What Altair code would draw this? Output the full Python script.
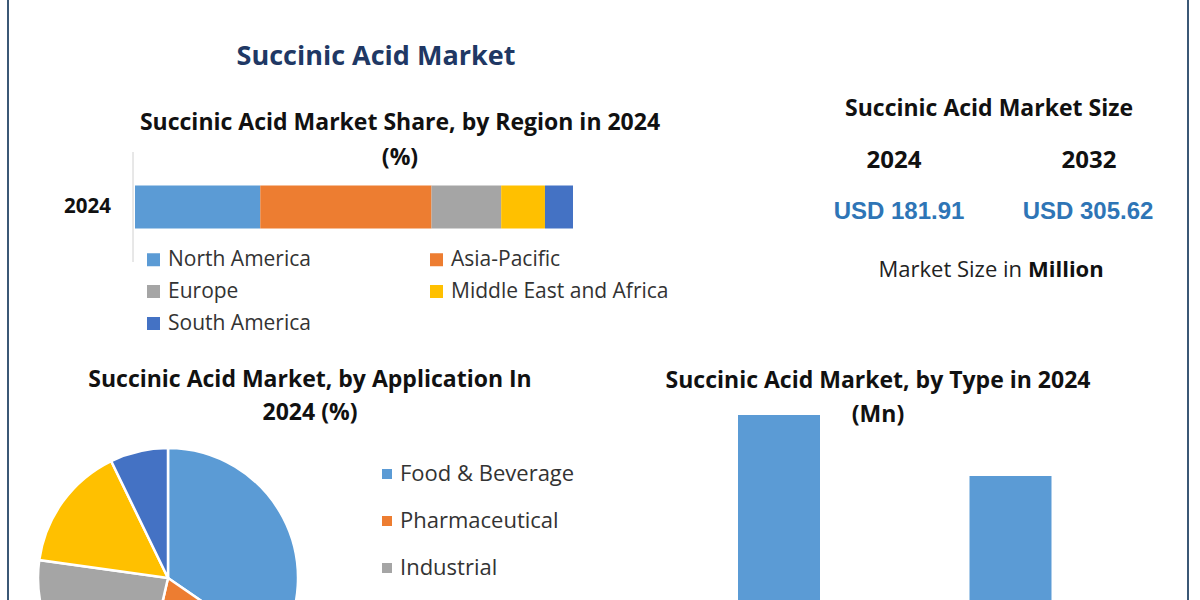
import altair as alt
import pandas as pd

# ---------------- data ----------------
region_year = ["2024"]
region_names = ["North America", "Asia-Pacific", "Europe", "Middle East and Africa", "South America"]
region_share = [28.6, 39.1, 15.9, 10.0, 6.4]

app_names = ["Food & Beverage", "Pharmaceutical", "Industrial", "Personal Care", "Others"]
app_share = [34.6, 19.0, 23.6, 15.6, 7.2]

type_names = ["Bio-based", "Petro-based"]
type_values = [102.8, 79.1]

size_years = ["2024", "2032"]
size_labels = ["USD 181.91", "USD 305.62"]

palette = ["#5b9bd5", "#ed7d31", "#a5a5a5", "#ffc000", "#4472c4"]

FONT = "Open Sans"
one = pd.DataFrame({"k": [0]})


def txt(s, x, y, size, weight="bold", color="#111111", font=FONT, align="center"):
    return alt.Chart(one).mark_text(
        text=s, fontSize=size, fontWeight=weight, color=color, font=font,
        align=align, baseline="middle"
    ).encode(x=alt.value(x), y=alt.value(y))


# ---------------- region stacked bar ----------------
reg_df = pd.DataFrame({
    "year": region_year * len(region_names),
    "region": region_names,
    "share": region_share,
    "ord": list(range(len(region_names))),
})
year_scale = alt.Scale(domain=region_year, range=[152, 262])
region_bar = alt.Chart(reg_df).mark_bar(size=43).encode(
    x=alt.X("share:Q", stack="zero",
            scale=alt.Scale(domain=[0, 100], range=[135, 573], nice=False), axis=None),
    y=alt.Y("year:N", scale=year_scale, axis=None),
    color=alt.Color("region:N",
                    scale=alt.Scale(domain=region_names, range=palette),
                    legend=alt.Legend(orient="none", legendX=143, legendY=249, columns=2,
                                      direction="horizontal",
                                      title=None, symbolType="square", symbolSize=169,
                                      symbolStrokeWidth=0, labelFont=FONT, labelFontSize=21,
                                      labelColor="#333333", labelOffset=4, rowPadding=10,
                                      columnPadding=115, labelLimit=400, padding=0)),
    order=alt.Order("ord:Q"),
)
region_axis = alt.Chart(one).mark_rule(color="#d0d0d0", strokeWidth=1).encode(
    x=alt.value(133), y=alt.value(152), y2=alt.value(262))
region_year_lbl = alt.Chart(pd.DataFrame({"year": region_year})).mark_text(
    font=FONT, fontSize=20.5, fontWeight="bold", color="#111111", align="right", baseline="middle"
).encode(x=alt.value(111), y=alt.Y("year:N", scale=year_scale, axis=None), text="year:N")

# ---------------- application pie ----------------
app_df = pd.DataFrame({"app": app_names, "share": app_share, "ord": list(range(len(app_names)))})
pie = alt.Chart(app_df).mark_arc(radius=130, stroke="white", strokeWidth=2.5).encode(
    theta=alt.Theta("share:Q", stack=True),
    color=alt.Color("app:N",
                    scale=alt.Scale(domain=app_names, range=palette),
                    legend=alt.Legend(orient="none", legendX=376, legendY=463, direction="vertical",
                                      values=app_names[:3],
                                      title=None, symbolType="square", symbolSize=100,
                                      symbolStrokeWidth=0, labelFont=FONT, labelFontSize=22,
                                      labelColor="#333333", labelOffset=2, rowPadding=25,
                                      labelLimit=400, padding=0)),
    order=alt.Order("ord:Q"),
    x=alt.value(168), y=alt.value(578),
)

# ---------------- type bars ----------------
type_df = pd.DataFrame({"type": type_names, "value": type_values})
type_bars = alt.Chart(type_df).mark_bar(color="#5b9bd5").encode(
    x=alt.X("type:N", scale=alt.Scale(domain=type_names, range=[663.25, 1126.25],
                                      paddingInner=0.6458, paddingOuter=0.3229), axis=None),
    y=alt.Y("value:Q", scale=alt.Scale(domain=[0, 110], range=[679.6, 396.5], nice=False), axis=None),
)

# ---------------- market size block ----------------
size_df = pd.DataFrame({"year": size_years, "label": size_labels})
size_year_txt = alt.Chart(size_df).mark_text(
    font=FONT, fontSize=24, fontWeight="bold", color="#111111", baseline="middle"
).encode(
    x=alt.X("year:N", scale=alt.Scale(type="point", domain=size_years, range=[894, 1089], padding=0), axis=None),
    y=alt.value(161), text="year:N")
size_val_txt = alt.Chart(size_df).mark_text(
    font="Liberation Sans", fontSize=24, fontWeight="bold", color="#2e75b6", baseline="middle"
).encode(
    x=alt.X("year:N", scale=alt.Scale(type="point", domain=size_years, range=[899, 1088], padding=0), axis=None),
    y=alt.value(212), text="label:N")

# ---------------- frame ----------------
border_l = alt.Chart(one).mark_rule(color="#3b5876", strokeWidth=2).encode(
    x=alt.value(8), y=alt.value(0), y2=alt.value(600))
border_r = alt.Chart(one).mark_rule(color="#3b5876", strokeWidth=2).encode(
    x=alt.value(1188), y=alt.value(0), y2=alt.value(600))

layers = [
    border_l, border_r,
    txt("Succinic Acid Market", 376, 57, 27, color="#203864"),
    txt("Succinic Acid Market Share, by Region in 2024", 400, 123, 23),
    txt("(%)", 400, 158, 23),
    region_axis, region_bar, region_year_lbl,
    txt("Succinic Acid Market Size", 989, 109, 23),
    size_year_txt, size_val_txt,
    txt("Market Size in", 1022, 270, 22, weight="normal", color="#222222", align="right"),
    txt("Million", 1028, 270, 22, color="#111111", align="left"),
    txt("Succinic Acid Market, by Application In", 310, 380, 23),
    txt("2024 (%)", 310, 413, 23),
    pie,
    txt("Succinic Acid Market, by Type in 2024", 878, 381, 23),
    txt("(Mn)", 878, 415, 23),
    type_bars,
]

chart = alt.layer(*layers).resolve_scale(
    x="independent", y="independent", color="independent"
).properties(
    width=1200, height=600, autosize="none", padding=0, background="white"
).configure_view(stroke=None)

chart.save("out.html", embed_options={"renderer": "svg", "actions": False})
